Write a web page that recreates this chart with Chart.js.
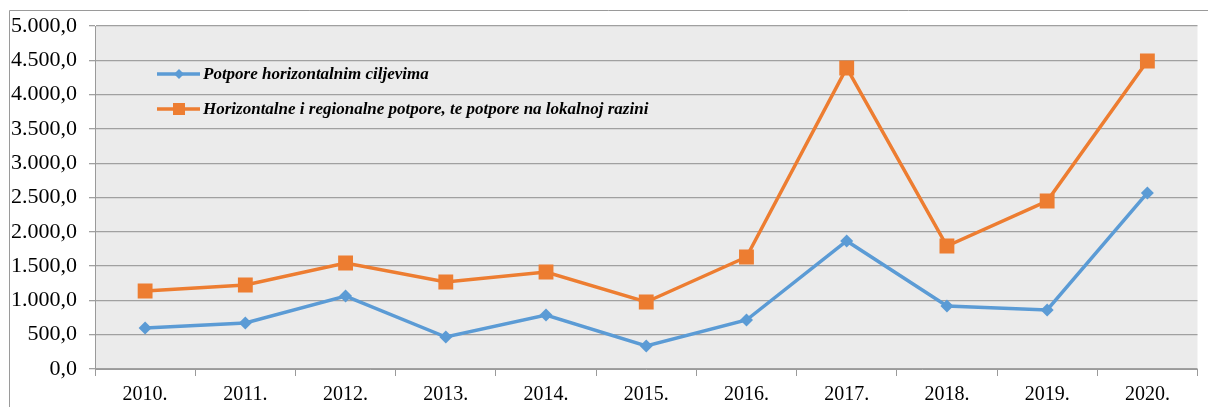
<!DOCTYPE html>
<html><head><meta charset="utf-8">
<script src="https://cdn.jsdelivr.net/npm/chart.js@4"></script>
<style>html,body{margin:0;padding:0;background:#fff}#wrap{width:1208px;height:407px}</style>
</head><body><div id="wrap"><canvas id="c" width="1208" height="407"></canvas></div>
<script>
const categories = ['2010.','2011.','2012.','2013.','2014.','2015.','2016.','2017.','2018.','2019.','2020.'];
const seriesNames = ['Potpore horizontalnim ciljevima','Horizontalne i regionalne potpore, te potpore na lokalnoj razini'];
const horizontal = [598, 670, 1064, 466, 787, 335, 714, 1866, 918, 860, 2566];
const regional = [1137, 1224, 1545, 1268, 1414, 977, 1633, 4388, 1793, 2449, 4490];
const yMin = 0, yMax = 5000, yStep = 500;

const FONT = 'Liberation Serif';
function fmt(v){
  const s = Math.round(v).toString().replace(/\B(?=(\d{3})+(?!\d))/g,'.');
  return s + ',0';
}
const frame = {
  id:'frame',
  beforeDraw(chart){
    const {ctx, chartArea:a} = chart;
    ctx.save();
    ctx.fillStyle = '#ebebeb';
    ctx.fillRect(a.left, a.top, a.right-a.left, a.bottom-a.top);
    ctx.strokeStyle = '#9a9a9a'; ctx.lineWidth = 1;
    ctx.beginPath();
    ctx.moveTo(9.5, 407); ctx.lineTo(9.5, 10.5); ctx.lineTo(1208, 10.5);
    ctx.stroke();
    ctx.restore();
  },
  afterDatasetsDraw(chart){
    const {ctx} = chart;
    ctx.save();
    const rows = [74, 109];
    chart.data.datasets.forEach((ds, i) => {
      const y = rows[i];
      ctx.strokeStyle = ds.borderColor; ctx.lineWidth = 3.5;
      ctx.beginPath(); ctx.moveTo(157, y); ctx.lineTo(200, y); ctx.stroke();
      ctx.fillStyle = ds.borderColor;
      if (i === 0) {
        ctx.beginPath(); ctx.moveTo(179, y-5); ctx.lineTo(184, y); ctx.lineTo(179, y+5); ctx.lineTo(174, y); ctx.closePath(); ctx.fill();
      } else {
        ctx.fillRect(173, y-6, 12, 12);
      }
      ctx.fillStyle = '#000';
      ctx.font = 'italic bold 17px "' + FONT + '"';
      ctx.textBaseline = 'middle';
      ctx.fillText(ds.label, 203, y+1);
    });
    ctx.restore();
  }
};

new Chart(document.getElementById('c'), {
  type:'line',
  data:{
    labels: categories,
    datasets:[
      {label: seriesNames[0], data: horizontal, borderColor:'#5b9bd5', backgroundColor:'#5b9bd5', borderWidth:3.5, pointStyle:'rectRot', pointRadius:6.5, pointBorderWidth:0, tension:0},
      {label: seriesNames[1], data: regional, borderColor:'#ed7d31', backgroundColor:'#ed7d31', borderWidth:3.5, pointStyle:'rect', pointRadius:10.5, pointBorderWidth:0, tension:0}
    ]
  },
  options:{
    responsive:false, animation:false,
    layout:{padding:{left:10, right:7, top:26, bottom:0}},
    plugins:{legend:{display:false}, tooltip:{enabled:false}},
    scales:{
      x:{
        offset:true,
        grid:{offset:true, drawOnChartArea:false, drawTicks:true, tickLength:7, color:'#9a9a9a'},
        border:{color:'#9a9a9a'},
        ticks:{color:'#000', font:{family:FONT, size:20}, padding:7, maxRotation:0},
        afterFit(s){ s.height = 38; }
      },
      y:{
        min:yMin, max:yMax,
        grid:{color:'#a0a0a0', lineWidth:1.3, tickLength:6, drawTicks:true},
        border:{color:'#9a9a9a'},
        ticks:{stepSize:yStep, color:'#000', font:{family:FONT, size:22}, padding:12, callback:v=>fmt(v)},
        afterFit(s){ s.width = 85; }
      }
    }
  },
  plugins:[frame]
});
</script>
</body></html>
